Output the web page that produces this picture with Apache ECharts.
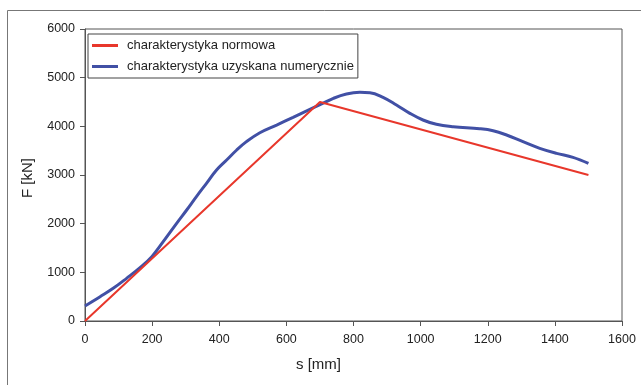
<!DOCTYPE html>
<html>
<head>
<meta charset="utf-8">
<script src="https://cdn.jsdelivr.net/npm/echarts@6/dist/echarts.min.js"></script>
<style>
html,body{margin:0;padding:0;background:#fff;}
#chart{width:641px;height:385px;}
</style>
</head>
<body>
<div id="chart"></div>
<script>
var seriesNames = ['charakterystyka normowa', 'charakterystyka uzyskana numerycznie'];
var sNorm = [0, 700, 1500];
var fNorm = [0, 4500, 3000];
var sNum = [0, 45, 84, 124, 164, 199, 233, 273, 303, 332, 362, 392, 422, 452, 481, 521, 571, 620, 670, 705, 740, 779, 819, 849, 888, 928, 968, 1007, 1047, 1097, 1176, 1216, 1256, 1305, 1355, 1405, 1454, 1500];
var fNum = [310, 500, 671, 877, 1096, 1322, 1630, 2007, 2281, 2555, 2829, 3103, 3308, 3514, 3685, 3869, 4027, 4185, 4349, 4459, 4575, 4664, 4698, 4691, 4596, 4438, 4267, 4130, 4041, 3992, 3951, 3910, 3822, 3684, 3548, 3445, 3363, 3240];
var xTitle = 's [mm]';
var yTitle = 'F [kN]';

function pairs(xs, ys) { return xs.map(function (x, i) { return [x, ys[i]]; }); }
function plain(v) { return String(v); }

var font = '"Liberation Sans", Arial, sans-serif';
var chart = echarts.init(document.getElementById('chart'), null, {renderer: 'canvas'});
chart.setOption({
  animation: false,
  backgroundColor: '#fff',
  grid: {left: 85, right: 19, top: 29, bottom: 64, show: true, borderColor: '#555', borderWidth: 1, backgroundColor: 'transparent'},
  graphic: [
    {type: 'rect', shape: {x: 7.5, y: 10.5, width: 700, height: 500}, style: {fill: 'none', stroke: '#777', lineWidth: 1}, z: -1},
    {type: 'text', left: 296, top: 357, style: {text: xTitle, font: '15px ' + font, fill: '#222'}},
    {type: 'text', x: 20, y: 198, rotation: Math.PI / 2, style: {text: yTitle, font: '15px ' + font, fill: '#222'}}
  ],
  legend: {
    orient: 'vertical', left: 88, top: 34,
    padding: [5, 4, 5, 4], itemGap: 8,
    itemWidth: 26, itemHeight: 3,
    backgroundColor: '#fff', borderColor: '#444', borderWidth: 1,
    textStyle: {fontFamily: font, fontSize: 13, color: '#222', padding: [0, 0, 0, 4]},
    data: [{name: seriesNames[0], icon: 'rect'}, {name: seriesNames[1], icon: 'rect'}]
  },
  xAxis: {
    type: 'value', min: 0, max: 1600, interval: 200,
    axisLine: {show: true, lineStyle: {color: '#555', width: 1}},
    axisTick: {show: true, length: 5, lineStyle: {color: '#555'}},
    axisLabel: {margin: 12, fontFamily: font, fontSize: 12.5, color: '#222', formatter: plain},
    splitLine: {show: false}
  },
  yAxis: {
    type: 'value', min: 0, max: 6000, interval: 1000,
    axisLine: {show: true, lineStyle: {color: '#555', width: 1}},
    axisTick: {show: true, length: 5, lineStyle: {color: '#555'}},
    axisLabel: {margin: 10, fontFamily: font, fontSize: 12.5, color: '#222', formatter: plain},
    splitLine: {show: false}
  },
  series: [
    {name: seriesNames[0], type: 'line', data: pairs(sNorm, fNorm), showSymbol: false, symbol: 'none',
     lineStyle: {color: '#e8372b', width: 2}, itemStyle: {color: '#e8372b'}, z: 3},
    {name: seriesNames[1], type: 'line', data: pairs(sNum, fNum), showSymbol: false, symbol: 'none', smooth: 0.4,
     lineStyle: {color: '#4150a5', width: 3}, itemStyle: {color: '#4150a5'}, z: 2}
  ]
});
</script>
</body>
</html>
